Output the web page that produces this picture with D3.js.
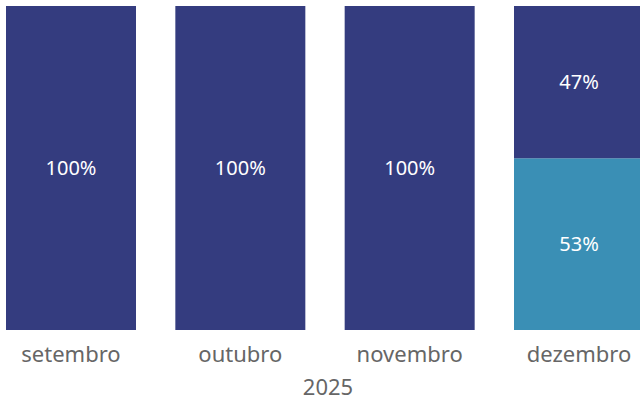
<!DOCTYPE html>
<head>
<meta charset="utf-8">
<style>
  body { margin: 0; background: #fff; }
  text { font-family: "Noto Sans", "Open Sans", sans-serif; }
</style>
</head>
<body>
  <svg width="640" height="400"></svg>

  <script src="https://d3js.org/d3.v7.min.js"></script>
  <script>
  // data
  const months = ['setembro', 'outubro', 'novembro', 'dezembro'];
  const seriesA = [1.00, 1.00, 1.00, 0.47]; // dark navy (top)
  const seriesB = [0.00, 0.00, 0.00, 0.53]; // teal (bottom)
  const yearLabel = '2025';

  const colors = { A: '#343c7f', B: '#3a8fb5' };

  const svg = d3.select('svg');

  const x = d3.scaleBand()
    .domain(months)
    .range([6, 644])
    .paddingInner(0.2323)
    .paddingOuter(0);

  const y = d3.scaleLinear()
    .domain([0, 1])
    .range([330, 6]);

  const rows = months.map((m, i) => ({ month: m, B: seriesB[i], A: seriesA[i] }));
  const stacked = d3.stack().keys(['B', 'A'])(rows);

  const layer = svg.selectAll('g.layer')
    .data(stacked)
    .enter()
    .append('g')
    .attr('class', 'layer')
    .attr('fill', d => colors[d.key]);

  layer.selectAll('rect')
    .data(d => d.filter(s => s[1] - s[0] > 0))
    .enter()
    .append('rect')
    .attr('x', d => x(d.data.month))
    .attr('width', x.bandwidth())
    .attr('y', d => y(d[1]))
    .attr('height', d => y(d[0]) - y(d[1]));

  // percent labels
  layer.selectAll('text')
    .data(d => d.filter(s => s[1] - s[0] > 0))
    .enter()
    .append('text')
    .attr('x', d => x(d.data.month) + x.bandwidth() / 2)
    .attr('y', d => (y(d[0]) + y(d[1])) / 2)
    .attr('dy', '0.35em')
    .attr('text-anchor', 'middle')
    .attr('fill', '#fff')
    .attr('font-size', 20)
    .text(d => Math.round((d[1] - d[0]) * 100) + '%');

  // x axis labels
  const xAxis = svg.append('g')
    .attr('transform', 'translate(0,330)')
    .call(d3.axisBottom(x).tickSize(0).tickPadding(0));
  xAxis.select('.domain').remove();
  xAxis.selectAll('text')
    .attr('y', 32)
    .attr('dy', 0)
    .attr('fill', '#666')
    .attr('font-size', 22);

  svg.append('text')
    .attr('x', 328)
    .attr('y', 395)
    .attr('text-anchor', 'middle')
    .attr('fill', '#666')
    .attr('font-size', 22)
    .text(yearLabel);
  </script>
</body>
</html>
